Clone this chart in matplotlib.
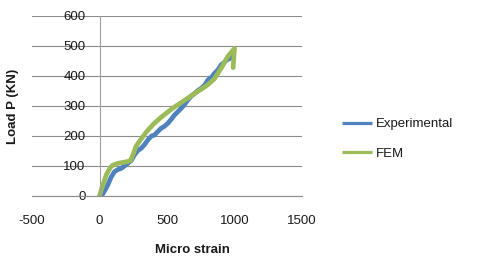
import matplotlib
matplotlib.use("Agg")
import matplotlib.pyplot as plt

# Experimental curve (micro strain, load kN)
exp_strain = [15, 35, 62, 85, 111, 135, 161, 185, 210, 235, 259, 285, 309, 335, 358, 385, 407,
              430, 457, 480, 506, 530, 556, 580, 605, 630, 654, 680, 704, 730, 753, 780, 803,
              830, 852, 880, 901, 925, 951, 975, 988]
exp_load = [0, 15, 37, 62, 81, 88, 92, 100, 109, 118, 137, 152, 159, 172, 187, 200, 203,
            214, 226, 232, 242, 255, 270, 281, 292, 305, 320, 333, 342, 352, 359, 370, 387,
            396, 409, 422, 437, 446, 456, 460, 464]

# FEM curve
fem_strain = [0, 20, 50, 80, 100, 130, 160, 200, 230, 250, 270, 300, 350, 400, 450, 500,
              550, 600, 650, 700, 750, 800, 850, 900, 950, 1000, 990]
fem_load = [0, 30, 70, 95, 103, 108, 111, 114, 118, 140, 165, 185, 215, 240, 260, 278,
            295, 310, 325, 340, 355, 370, 390, 425, 465, 492, 428]

plt.rcParams['font.family'] = ['Liberation Sans', 'DejaVu Sans']
plt.rcParams['axes.unicode_minus'] = False

fig = plt.figure(figsize=(4.8, 2.62), dpi=100)
ax = fig.add_axes([32/480, 1-196/262, 270/480, 180/262])

ax.plot(exp_strain, exp_load, color="#4F81BD", lw=3.4, label="Experimental",
        solid_capstyle="round", solid_joinstyle="round")
ax.plot(fem_strain, fem_load, color="#9BBB59", lw=3.4, label="FEM",
        solid_capstyle="round", solid_joinstyle="round")

ax.set_xlim(-500, 1500)
ax.set_ylim(0, 600)
ax.set_xticks([-500, 0, 500, 1000, 1500])
ax.set_yticks([0, 100, 200, 300, 400, 500, 600])
ax.yaxis.grid(True, color="#8c8c8c", lw=0.8)
ax.set_axisbelow(True)

for s in ["top", "right"]:
    ax.spines[s].set_visible(False)
ax.spines["left"].set_position(("data", 0))
ax.spines["left"].set_color("#a0a0a0")
ax.spines["bottom"].set_color("#8c8c8c")
ax.tick_params(axis="both", length=0, labelsize=9.5, colors="#1a1a1a")
ax.tick_params(axis="x", pad=14)
ax.tick_params(axis="y", pad=10)

ax.set_xlabel("Micro strain", fontsize=9.5, fontweight="bold", color="#1a1a1a")
ax.xaxis.set_label_coords(0.596, -0.265)
ax.set_ylabel("Load P (KN)", fontsize=9.5, fontweight="bold", color="#1a1a1a")
ax.yaxis.set_label_coords((19 - 32) / 270, 0.5)

leg = ax.legend(loc="center left", bbox_to_anchor=(330/480, 1-139/262), bbox_transform=fig.transFigure,
                frameon=False, fontsize=9.5, handlelength=2.3, handletextpad=0.25, labelspacing=1.3,
                labelcolor="#1a1a1a")
for ln in leg.get_lines():
    ln.set_linewidth(2.3)
    ln.set_solid_capstyle("butt")

plt.savefig("out.png", dpi=100)
plt.close()
